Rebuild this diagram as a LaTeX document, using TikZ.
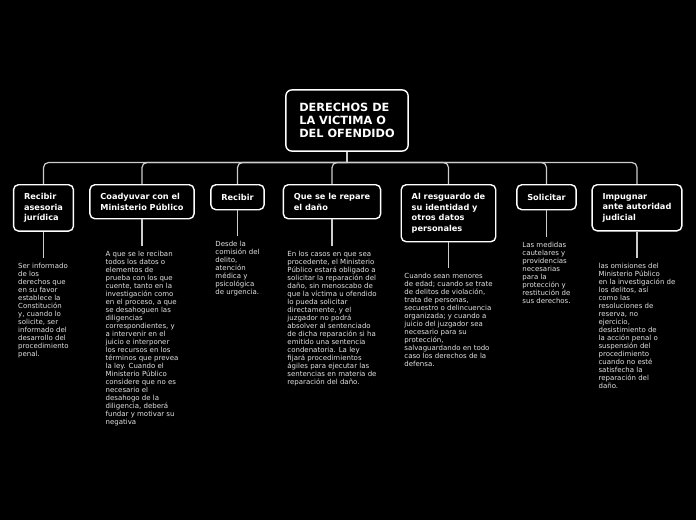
\documentclass[tikz,border=0pt]{standalone}
\usepackage{fontspec}
\setmainfont{DejaVu Sans}
\usepackage{xcolor}
\usepackage{tikz}
\usetikzlibrary{positioning}
\definecolor{mapline}{RGB}{205,205,205}
\definecolor{notegray}{RGB}{228,228,228}

\begin{document}
\begin{tikzpicture}[x=1pt,y=-1pt,
    topic/.style={rectangle,draw=white,fill=black,line width=1.4pt,rounded corners=5pt,
        align=left,text=white,font=\fontsize{8.2}{10.7}\selectfont\bfseries,
        inner xsep=10.5pt,inner ysep=8.5pt,minimum height=25pt,anchor=north},
    central/.style={topic,font=\fontsize{11.3}{13.3}\selectfont\bfseries,
        inner xsep=13.5pt,inner ysep=13pt,rounded corners=6pt,anchor=center},
    note/.style={align=left,text=notegray,font=\fontsize{7}{8}\selectfont,inner sep=0pt},
    branch/.style={draw=mapline,line width=1.2pt,rounded corners=5pt},
    stem/.style={draw=mapline,line width=1.2pt,shorten >=5pt}]

    % background
    \fill[black] (0,0) rectangle (696,520);
    \useasboundingbox (0,0) rectangle (696,520);

    % central topic
    \node[central] (derechos) at (347,120.5) {DERECHOS DE\\LA VICTIMA O\\DEL OFENDIDO};
    \coordinate (bar) at (347,162.5);

    % rights
    \node[topic] (d1) at (43.5,184) {Recibir\\asesoria\\jurídica};
    \node[topic] (d2) at (142,184) {Coadyuvar con el\\Ministerio Público};
    \node[topic] (d3) at (237.5,184) {Recibir};
    \node[topic] (d4) at (332,184) {Que se le repare\\el daño};
    \node[topic] (d5) at (448.5,184) {Al resguardo de\\su identidad y\\otros datos\\personales};
    \node[topic] (d6) at (546.5,184) {Solicitar};
    \node[topic] (d7) at (637,184) {Impugnar\\ante autoridad\\judicial};

    % notes
    \node[note,below=31.5pt of d1] (n1) {Ser informado\\de los\\derechos que\\en su favor\\establece la\\Constitución\\y, cuando lo\\solicite, ser\\informado del\\desarrollo del\\procedimiento\\penal.};
    \node[note,below=31.5pt of d2] (n2) {A que se le reciban\\todos los datos o\\elementos de\\prueba con los que\\cuente, tanto en la\\investigación como\\en el proceso, a que\\se desahoguen las\\diligencias\\correspondientes, y\\a intervenir en el\\juicio e interponer\\los recursos en los\\términos que prevea\\la ley. Cuando el\\Ministerio Público\\considere que no es\\necesario el\\desahogo de la\\diligencia, deberá\\fundar y motivar su\\negativa};
    \node[note,below=31pt of d3] (n3) {Desde la\\comisión del\\delito,\\atención\\médica y\\psicológica\\de urgencia.};
    \node[note,below=31.5pt of d4] (n4) {En los casos en que sea\\procedente, el Ministerio\\Público estará obligado a\\solicitar la reparación del\\daño, sin menoscabo de\\que la víctima u ofendido\\lo pueda solicitar\\directamente, y el\\juzgador no podrá\\absolver al sentenciado\\de dicha reparación si ha\\emitido una sentencia\\condenatoria. La ley\\fijará procedimientos\\ágiles para ejecutar las\\sentencias en materia de\\reparación del daño.};
    \node[note,below=31pt of d5] (n5) {Cuando sean menores\\de edad; cuando se trate\\de delitos de violación,\\trata de personas,\\secuestro o delincuencia\\organizada; y cuando a\\juicio del juzgador sea\\necesario para su\\protección,\\salvaguardando en todo\\caso los derechos de la\\defensa.};
    \node[note,below=32pt of d6] (n6) {Las medidas\\cautelares y\\providencias\\necesarias\\para la\\protección y\\restitución de\\sus derechos.};
    \node[note,below=31pt of d7] (n7) {las omisiones del\\Ministerio Público\\en la investigación de\\los delitos, así\\como las\\resoluciones de\\reserva, no\\ejercicio,\\desistimiento de\\la acción penal o\\suspensión del\\procedimiento\\cuando no esté\\satisfecha la\\reparación del\\daño.};

    % connectors
    \draw[branch] (derechos.south) -- (bar);
    \foreach \n in {1,...,7} {
        \draw[branch] (bar) -| (d\n.north);
        \draw[stem] (d\n.south) -- (n\n.north);
    }

\end{tikzpicture}
\end{document}
